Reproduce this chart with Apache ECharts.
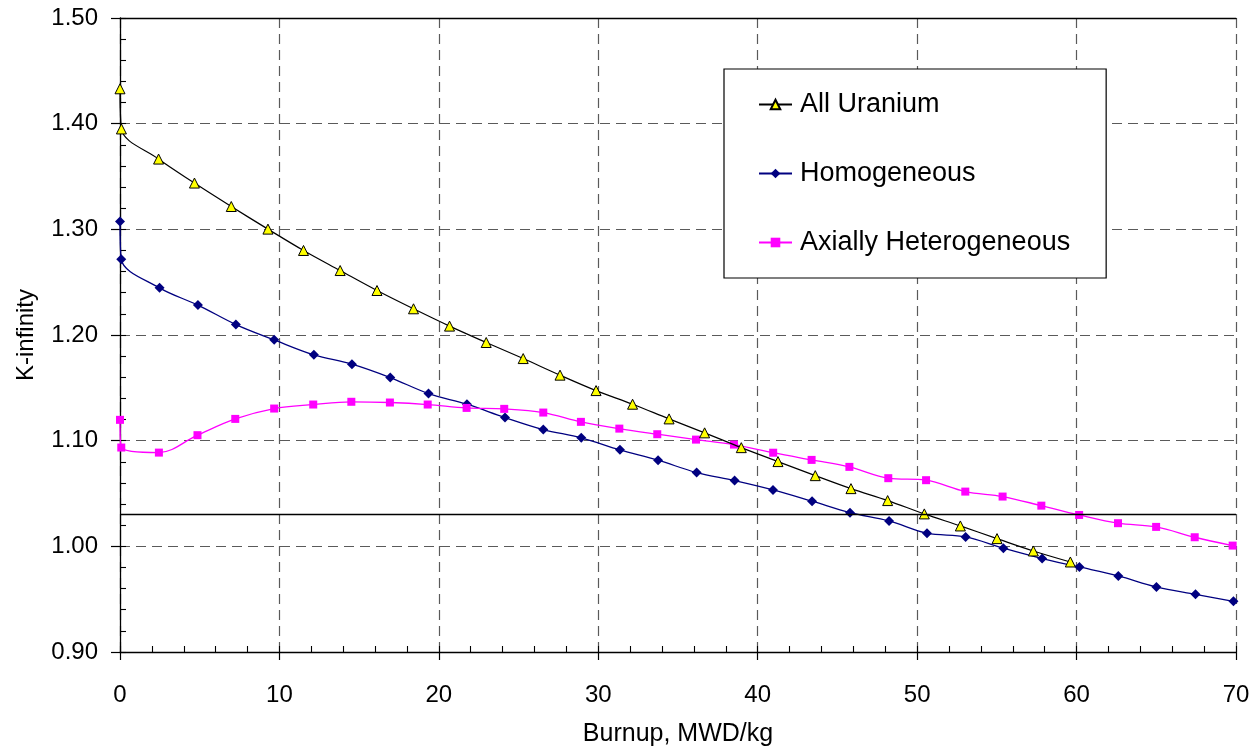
<!DOCTYPE html>
<html>
<head>
<meta charset="utf-8">
<script src="https://cdn.jsdelivr.net/npm/echarts@6/dist/echarts.min.js"></script>
<style>
html,body{margin:0;padding:0;background:#fff;}
#chart{width:1253px;height:748px;}
</style>
</head>
<body>
<div id="chart"></div>
<script>
// ---- data ----
const seriesNames = ['All Uranium', 'Homogeneous', 'Axially Heterogeneous'];

const burnupUranium = [0, 0.09, 2.42, 4.67, 6.98, 9.28, 11.51, 13.81, 16.12, 18.41, 20.67, 22.97, 25.29, 27.6, 29.86, 32.15, 34.44, 36.67, 38.97, 41.27, 43.61, 45.85, 48.15, 50.45, 52.71, 55.01, 57.29, 59.61];
const kUranium = [1.433, 1.395, 1.3665, 1.3438, 1.3216, 1.3002, 1.2800, 1.2610, 1.2421, 1.2248, 1.2084, 1.1929, 1.1777, 1.1620, 1.1474, 1.1345, 1.1206, 1.1074, 1.0934, 1.0802, 1.0669, 1.0546, 1.0433, 1.0307, 1.0193, 1.0073, 0.9956, 0.9852];

const burnupHomog = [0, 0.08, 2.48, 4.89, 7.27, 9.67, 12.16, 14.55, 16.95, 19.35, 21.76, 24.15, 26.55, 28.93, 31.36, 33.75, 36.17, 38.55, 40.96, 43.41, 45.79, 48.24, 50.62, 53.04, 55.41, 57.84, 60.18, 62.62, 65.01, 67.46, 69.84];
const kHomog = [1.3074, 1.2718, 1.2446, 1.2283, 1.2099, 1.1954, 1.1812, 1.1724, 1.1597, 1.1446, 1.1345, 1.1219, 1.1105, 1.1027, 1.0913, 1.0815, 1.0698, 1.0622, 1.0534, 1.0427, 1.0319, 1.0240, 1.0124, 1.0089, 0.9982, 0.9884, 0.9805, 0.9720, 0.9616, 0.9546, 0.9480];

const burnupAxial = [0, 0.08, 2.44, 4.86, 7.23, 9.67, 12.12, 14.51, 16.93, 19.3, 21.74, 24.1, 26.55, 28.91, 31.32, 33.7, 36.13, 38.51, 40.97, 43.38, 45.75, 48.19, 50.56, 53.02, 55.36, 57.79, 60.16, 62.6, 64.99, 67.41, 69.79];
const kAxial = [1.1197, 1.0935, 1.0887, 1.1052, 1.1206, 1.1304, 1.1342, 1.1368, 1.1361, 1.1342, 1.1310, 1.1301, 1.1266, 1.1178, 1.1114, 1.1061, 1.1010, 1.0963, 1.0886, 1.0818, 1.0752, 1.0645, 1.0626, 1.0518, 1.0471, 1.0385, 1.0297, 1.0219, 1.0184, 1.0086, 1.0007];

const referenceK = 1.03;

const xMin = 0, xMax = 70, xStep = 10, xMinorStep = 2;
const yMin = 0.90, yMax = 1.50, yStep = 0.10, yMinorStep = 0.02;
const xTitle = 'Burnup, MWD/kg';
const yTitle = 'K-infinity';

// ---- chart ----
const zip = (xs, ys) => xs.map((x, i) => [x, ys[i]]);
const FONT = '"Liberation Sans", Arial, sans-serif';
const chart = echarts.init(document.getElementById('chart'), null, {renderer: 'canvas'});

const gridDash = {color: '#5a5a5a', width: 1.2, type: [10, 6]};

const option = {
  backgroundColor: '#fff',
  animation: false,
  grid: {left: 120, right: 17, top: 18, bottom: 96, containLabel: false, outerBoundsMode: 'none'},
  legend: {
    orient: 'vertical',
    left: 724, top: 69,
    padding: [22, 36, 22, 34],
    itemGap: 42,
    itemWidth: 33, itemHeight: 12,
    backgroundColor: '#fff',
    borderColor: '#000', borderWidth: 1.2,
    textStyle: {fontSize: 27, fontFamily: FONT, color: '#000', padding: [0, 0, 0, 3]},
    data: seriesNames
  },
  xAxis: [
    {
      type: 'value', min: xMin, max: xMax, interval: xStep, position: 'bottom',
      name: xTitle, nameLocation: 'middle', nameGap: 70,
      nameTextStyle: {fontSize: 25, fontFamily: FONT, color: '#000'},
      axisLine: {show: true, onZero: false, lineStyle: {color: '#000', width: 1.3}},
      axisTick: {show: true, inside: false, length: 8, lineStyle: {color: '#000', width: 1.2}},
      axisLabel: {fontSize: 24, fontFamily: FONT, color: '#000', margin: 31},
      splitLine: {show: true, lineStyle: gridDash}
    },
    {
      type: 'value', min: xMin, max: xMax, interval: xMinorStep, position: 'bottom',
      axisLine: {show: false}, axisLabel: {show: false}, splitLine: {show: false},
      axisTick: {show: true, inside: true, length: 6, lineStyle: {color: '#000', width: 1.1}}
    },
    {
      type: 'value', min: xMin, max: xMax, position: 'top',
      axisLine: {show: true, onZero: false, lineStyle: {color: '#000', width: 1.3}},
      axisTick: {show: false}, axisLabel: {show: false}, splitLine: {show: false}
    }
  ],
  yAxis: [
    {
      type: 'value', min: yMin, max: yMax, interval: yStep, position: 'left',
      name: yTitle, nameLocation: 'middle', nameGap: 82,
      nameTextStyle: {fontSize: 24, fontFamily: FONT, color: '#000'},
      axisLine: {show: true, onZero: false, lineStyle: {color: '#000', width: 1.3}},
      axisTick: {show: true, inside: false, length: 9, lineStyle: {color: '#000', width: 1.2}},
      axisLabel: {fontSize: 24, fontFamily: FONT, color: '#000', margin: 22,
                  formatter: v => v.toFixed(2)},
      splitLine: {show: true, lineStyle: gridDash}
    },
    {
      type: 'value', min: yMin, max: yMax, interval: yMinorStep, position: 'left',
      axisLine: {show: false}, axisLabel: {show: false}, splitLine: {show: false},
      axisTick: {show: true, inside: true, length: 6, lineStyle: {color: '#000', width: 1.1}}
    }
  ],
  series: [
    {
      name: seriesNames[0], type: 'line', xAxisIndex: 0, yAxisIndex: 0,
      data: zip(burnupUranium, kUranium),
      smooth: 0.35,
      symbol: 'triangle', symbolSize: 10,
      lineStyle: {color: '#000', width: 1.2},
      itemStyle: {color: '#ffff00', borderColor: '#000', borderWidth: 1},
      z: 4,
      markLine: {
        silent: true, symbol: 'none',
        label: {show: false},
        lineStyle: {color: '#000', type: 'solid', width: 1.3},
        data: [{yAxis: referenceK}]
      }
    },
    {
      name: seriesNames[1], type: 'line', xAxisIndex: 0, yAxisIndex: 0,
      data: zip(burnupHomog, kHomog),
      smooth: 0.35,
      symbol: 'diamond', symbolSize: 10,
      lineStyle: {color: '#000080', width: 1.3},
      itemStyle: {color: '#000080', borderColor: '#000080', borderWidth: 0},
      z: 3
    },
    {
      name: seriesNames[2], type: 'line', xAxisIndex: 0, yAxisIndex: 0,
      data: zip(burnupAxial, kAxial),
      smooth: 0.35,
      symbol: 'rect', symbolSize: 8,
      lineStyle: {color: '#ff00ff', width: 1.3},
      itemStyle: {color: '#ff00ff', borderColor: '#ff00ff', borderWidth: 0},
      z: 3
    }
  ]
};
chart.setOption(option);
</script>
</body>
</html>
